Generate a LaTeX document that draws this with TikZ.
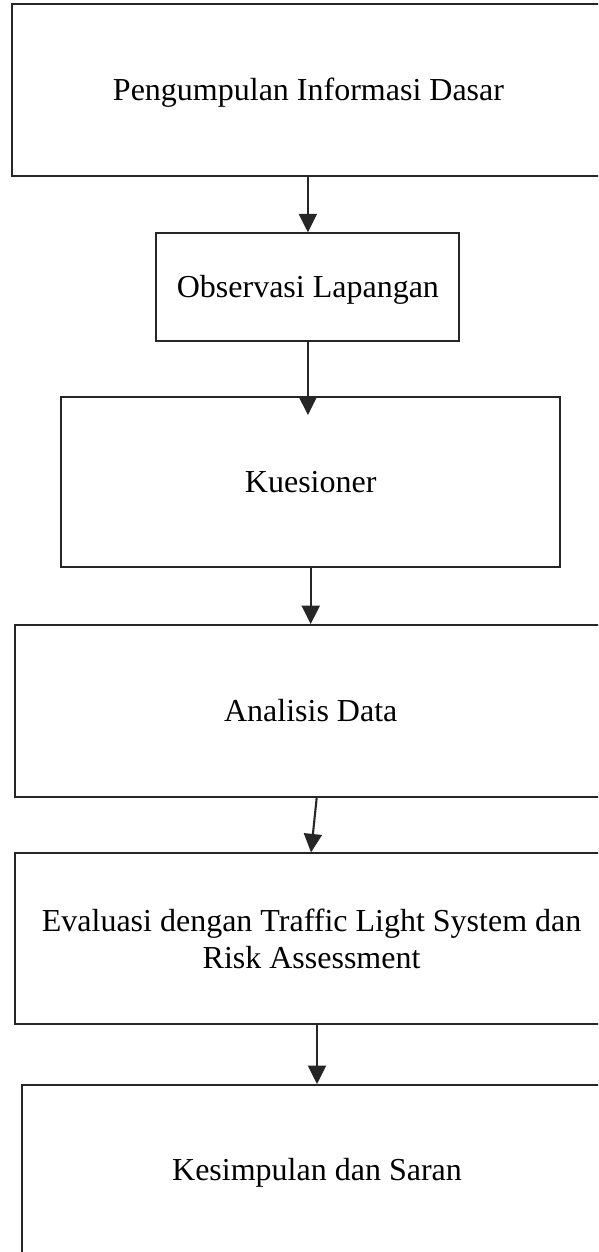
\documentclass[tikz,border=0pt]{standalone}
\usepackage{fontspec}
\setmainfont{Liberation Serif}
\usetikzlibrary{arrows.meta}
\definecolor{ln}{RGB}{38,38,38}
\begin{document}
\begin{tikzpicture}[x=1pt,y=-1pt,
  box/.style={draw=ln, line width=1.9pt, rectangle, inner sep=0pt,
    font=\fontsize{32}{37.5}\selectfont, align=center},
  one/.style={text height=20.5pt, text depth=0pt},
  flow/.style={draw=ln, line width=2.1pt, -{Triangle[width=18pt,length=18.5pt]}}]
\useasboundingbox (0,0) rectangle (598,1252);
\fill[white] (0,0) rectangle (598,1252);
\clip (0,0) rectangle (598,1252);
\node[box, one, minimum width=593pt, minimum height=172pt] (b1) at (308.5,90) {Pengumpulan Informasi Dasar};
\node[box, one, minimum width=303pt, minimum height=107.4pt] (b2) at (307.9,287) {Observasi Lapangan};
\node[box, one, minimum width=499.3pt, minimum height=170.6pt] (b3) at (310.7,482) {Kuesioner};
\node[box, one, minimum width=590.7pt, minimum height=171.7pt] (b4) at (310.7,710.9) {Analisis Data};
\node[box, minimum width=592.7pt, minimum height=170.7pt] (b5) at (311.6,938.7) {Evaluasi dengan Traffic Light System dan\\Risk Assessment};
\node[box, one, minimum width=590pt, minimum height=171pt] (b6) at (317,1170.5) {Kesimpulan dan Saran};
\draw[flow] (b2.north |- b1.south) -- (b2.north);
\draw[flow] (b2.south) -- ([yshift=-19.3pt]b2.south |- b3.north);
\draw[flow] (b3.south) -- (b3.south |- b4.north);
\draw[flow] ([xshift=6pt]b4.south) -- ([xshift=-0.6pt]b5.north);
\draw[flow] ([yshift=2.3pt]b6.north |- b5.south) -- (b6.north);
\end{tikzpicture}
\end{document}
